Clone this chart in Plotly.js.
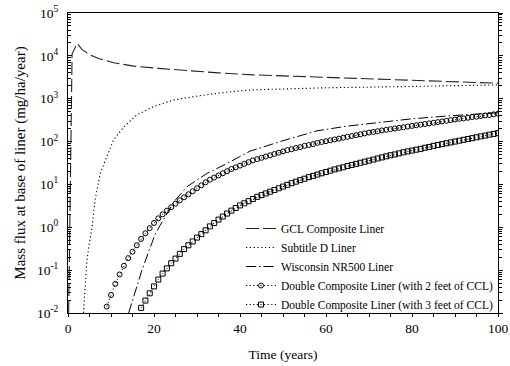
<!DOCTYPE html>
<html>
<head>
<meta charset="utf-8">
<script src="https://cdn.plot.ly/plotly-3.0.1.min.js"></script>
<style>html,body{margin:0;padding:0;background:#fff;}#chart{width:510px;height:366px;}</style>
</head>
<body>
<div id="chart"></div>
<script>
// ---- data ----
var seriesNames = [
  "GCL Composite Liner",
  "Subtitle D Liner",
  "Wisconsin NR500 Liner",
  "Double Composite Liner (with 2 feet of CCL)",
  "Double Composite Liner (with 3 feet of CCL)"
];

var gclTime = [0.15, 0.3, 0.5, 0.7, 0.95, 2.1, 3.3, 5, 7.1, 10.6, 15.3, 21, 29, 35, 43, 50, 60, 71, 80, 90, 100];
var gclFlux = [0.01, 0.2, 8, 1000, 11000, 19500, 14000, 10700, 8700, 6900, 5750, 5100, 4350, 4000, 3600, 3400, 3100, 2900, 2700, 2500, 2300];

var subDTime = [3.6, 4.0, 4.4, 5, 5.6, 6.3, 7.5, 8.7, 10.6, 13, 16, 20, 24.5, 30, 35, 42, 50, 60, 70, 80, 90, 100];
var subDFlux = [0.01, 0.045, 0.17, 0.45, 1.0, 4.4, 18, 37, 110, 220, 420, 660, 930, 1150, 1350, 1600, 1700, 1800, 1860, 1950, 2050, 2100];

var wiscTime = [14.1, 15.7, 17.2, 18.7, 20.3, 21.4, 23, 24.6, 27.7, 32.3, 37, 42.4, 50, 57.9, 65, 73.4, 80, 88.9, 100];
var wiscFlux = [0.01, 0.035, 0.1, 0.26, 0.7, 1.1, 2.1, 3.9, 8.9, 18, 31, 60, 105, 178, 230, 290, 340, 400, 470];

var dbl2Time = [9,10,11,12,13,14,15,16,17,18,19,20,21,22,23,24,25,26,27,28,29,30,31,32,33,34,35,36,37,38,39,40,
  41,42,43,44,45,46,47,48,49,50,51,52,53,54,55,56,57,58,59,60,61,62,63,64,65,66,67,68,69,70,
  71,72,73,74,75,76,77,78,79,80,81,82,83,84,85,86,87,88,89,90,91,92,93,94,95,96,97,98,99,100];
var dbl2Flux = [0.0141,0.0263,0.0479,0.0794,0.126,0.191,0.269,0.380,0.537,0.724,0.955,1.26,1.62,2.0,2.45,2.95,3.55,4.27,5.01,5.89,6.92,8.13,9.55,11.2,12.9,14.5,16.2,18.2,20.4,22.9,25.1,27.5,
  30.2,33.1,36.3,38.9,41.7,44.7,47.9,51.3,55.0,58.9,63.1,66.1,70.8,74.1,79.4,83.2,87.1,93.3,97.7,102,107,112,117,123,129,135,141,148,155,162,
  168,174,182,188,195,202,209,216,224,232,240,248,257,266,275,285,295,305,316,327,339,347,359,372,380,394,407,417,432,447];

var dbl3Time = [17,18,19,20,21,22,23,24,25,26,27,28,29,30,31,32,33,34,35,36,37,38,39,40,
  41,42,43,44,45,46,47,48,49,50,51,52,53,54,55,56,57,58,59,60,61,62,63,64,65,66,67,68,69,70,
  71,72,73,74,75,76,77,78,79,80,81,82,83,84,85,86,87,88,89,90,91,92,93,94,95,96,97,98,99,100];
var dbl3Flux = [0.0132,0.0195,0.0288,0.0417,0.0603,0.0832,0.110,0.145,0.186,0.240,0.309,0.380,0.468,0.575,0.692,0.851,1.05,1.26,1.51,1.78,2.09,2.45,2.82,3.24,
  3.63,4.07,4.57,5.13,5.62,6.17,6.76,7.41,8.13,8.91,9.77,10.7,11.6,12.6,13.6,14.8,15.8,17.0,18.2,19.5,20.9,22.4,23.7,25.1,26.9,28.5,30.2,32.0,33.9,35.9,
  38.0,40.3,42.7,45.2,47.9,50.1,53.1,56.2,58.9,61.7,64.6,67.6,71.6,75.0,79.4,83.2,87.1,91.2,95.5,100,105,110,115,120,126,132,138,145,151,158];

var yTickVals = [1e-2, 1e-1, 1, 10, 100, 1000, 1e4, 1e5];
var yTickText = ["10<sup>-2</sup>","10<sup>-1</sup>","10<sup>0</sup>","10<sup>1</sup>","10<sup>2</sup>","10<sup>3</sup>","10<sup>4</sup>","10<sup>5</sup>"];
var xTickVals = [0, 20, 40, 60, 80, 100];

// ---- minor tick positions for log axis (2..9 per decade) ----
var minorY = [];
for (var e = -2; e < 5; e++) {
  for (var m = 2; m <= 9; m++) minorY.push(m * Math.pow(10, e));
}

var FONT = "Liberation Serif";

var traces = [
  {x: gclTime, y: gclFlux, name: seriesNames[0], mode: "lines",
   line: {color: "#222", width: 1.1, dash: "13px,4px"}},
  {x: subDTime, y: subDFlux, name: seriesNames[1], mode: "lines",
   line: {color: "#000", width: 1.1, dash: "1.2px,2.6px"}},
  {x: wiscTime, y: wiscFlux, name: seriesNames[2], mode: "lines",
   line: {color: "#000", width: 1, dash: "10px,3px,1.5px,3px"}},
  {x: dbl2Time, y: dbl2Flux, name: seriesNames[3], mode: "lines+markers",
   line: {color: "#000", width: 1, dash: "1.2px,2.4px"},
   marker: {symbol: "circle-open", size: 5, color: "#000", line: {width: 1, color: "#000"}}},
  {x: dbl3Time, y: dbl3Flux, name: seriesNames[4], mode: "lines+markers",
   line: {color: "#000", width: 1, dash: "1.2px,2.4px"},
   marker: {symbol: "square-open", size: 5, color: "#000", line: {width: 1, color: "#000"}}},
  {x: [null], y: [null], yaxis: "y2", showlegend: false, hoverinfo: "skip", mode: "lines"}
];

var layout = {
  width: 510, height: 366,
  margin: {l: 68, r: 12, t: 13, b: 53},
  paper_bgcolor: "#fff", plot_bgcolor: "#fff",
  font: {family: FONT, size: 13, color: "#000"},
  showlegend: true,
  legend: {
    x: 1.0, xanchor: "right", y: 0.33, yanchor: "top",
    bgcolor: "rgba(0,0,0,0)", borderwidth: 0,
    font: {family: FONT, size: 11.5, color: "#000"},
    tracegroupgap: 0
  },
  xaxis: {
    range: [0, 100], autorange: false,
    tickmode: "array", tickvals: xTickVals,
    ticks: "outside", ticklen: 3, tickwidth: 1, tickcolor: "#000",
    minor: {dtick: 5, tick0: 0, ticks: "outside", ticklen: 3, tickwidth: 1, tickcolor: "#000"},
    showline: true, linecolor: "#000", linewidth: 1, mirror: true,
    showgrid: false, zeroline: false,
    tickfont: {family: FONT, size: 13.5},
    title: {text: "Time (years)", font: {family: FONT, size: 13.5}, standoff: 14}
  },
  yaxis: {
    type: "log", range: [-2, 5], autorange: false,
    tickmode: "array", tickvals: yTickVals, ticktext: yTickText,
    ticks: "inside", ticklen: 4, tickwidth: 1, tickcolor: "#000",
    minor: {tickmode: "array", tickvals: minorY, ticks: "inside", ticklen: 2.5, tickwidth: 1, tickcolor: "#000"},
    showline: true, linecolor: "#000", linewidth: 1, mirror: false,
    showgrid: false, zeroline: false,
    ticklabelstandoff: 6,
    tickfont: {family: FONT, size: 13.5},
    title: {text: "Mass flux at base of liner (mg/ha/year)", font: {family: FONT, size: 15}, standoff: 7}
  },
  yaxis2: {
    type: "log", range: [-2, 5], autorange: false,
    overlaying: "y", side: "right", anchor: "x",
    tickmode: "array", tickvals: yTickVals, showticklabels: false,
    ticks: "outside", ticklen: 4, tickwidth: 1, tickcolor: "#000",
    minor: {tickmode: "array", tickvals: minorY, ticks: "outside", ticklen: 2.5, tickwidth: 1, tickcolor: "#000"},
    showline: true, linecolor: "#000", linewidth: 1,
    showgrid: false, zeroline: false
  }
};

Plotly.newPlot("chart", traces, layout, {displayModeBar: false, staticPlot: true});
</script>
</body>
</html>
